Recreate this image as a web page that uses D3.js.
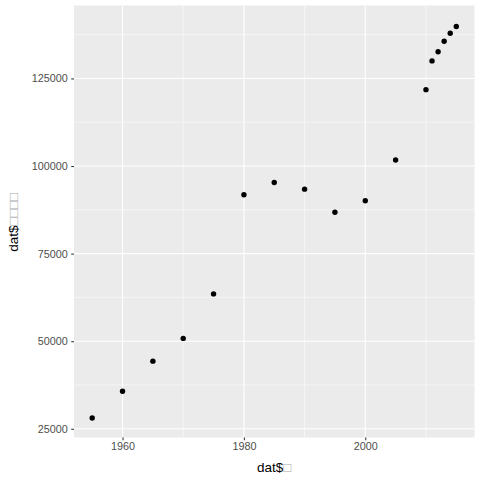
<!DOCTYPE html>
<html><head><meta charset="utf-8">
<script src="https://cdn.jsdelivr.net/npm/d3@7"></script>
<style>body{margin:0;background:#fff}svg{display:block}</style>
</head><body>
<script>
const years = [1955,1960,1965,1970,1975,1980,1985,1990,1995,2000,2005,2010,2011,2012,2013,2014,2015];
const values = [28100,35700,44300,50800,63500,91800,95300,93400,86800,90100,101700,121800,130000,132600,135600,137900,139800];
const xTicks = [1960,1980,2000];
const yTicks = [25000,50000,75000,100000,125000];
const xMinor = [1970,1990,2010];
const yMinor = [37500,62500,87500,112500,137500];
const xTitlePrefix = "dat$", xTitleRest = "\u25A1";
const yTitlePrefix = "dat$", yTitleRest = "\u25A1\u25A1\u25A1\u25A1";

const W=480,H=480;
const L=74, R=474.5, T=7, B=437.5;
const font="'Liberation Sans', Arial, Helvetica, sans-serif";
const svg=d3.select("body").append("svg").attr("width",W).attr("height",H);
svg.append("rect").attr("width",W).attr("height",H).attr("fill","#fff");

function expand(ext){const d=(ext[1]-ext[0])*0.05;return [ext[0]-d,ext[1]+d];}
const x=d3.scaleLinear().domain(expand(d3.extent(years))).range([L,R]);
const y=d3.scaleLinear().domain(expand(d3.extent(values))).range([B,T]);

svg.append("rect").attr("x",L).attr("y",5.5).attr("width",R-L).attr("height",B-5.5).attr("fill","#EBEBEB");
const g=svg.append("g");
g.selectAll(".xm").data(xMinor).join("line").attr("x1",d=>x(d)).attr("x2",d=>x(d)).attr("y1",5.5).attr("y2",B).attr("stroke","#fff").attr("stroke-width",0.53);
g.selectAll(".ym").data(yMinor).join("line").attr("y1",d=>y(d)).attr("y2",d=>y(d)).attr("x1",L).attr("x2",R).attr("stroke","#fff").attr("stroke-width",0.53);
g.selectAll(".xM").data(xTicks).join("line").attr("x1",d=>x(d)).attr("x2",d=>x(d)).attr("y1",5.5).attr("y2",B).attr("stroke","#fff").attr("stroke-width",1.07);
g.selectAll(".yM").data(yTicks).join("line").attr("y1",d=>y(d)).attr("y2",d=>y(d)).attr("x1",L).attr("x2",R).attr("stroke","#fff").attr("stroke-width",1.07);

const xAxis=d3.axisBottom(x).tickValues(xTicks).tickSize(2.75).tickPadding(2.5).tickFormat(d3.format("d"));
const yAxis=d3.axisLeft(y).tickValues(yTicks).tickSize(2.75).tickPadding(3.5).tickFormat(d3.format("d"));
const xa=svg.append("g").attr("transform",`translate(0,${B})`).call(xAxis);
const ya=svg.append("g").attr("transform",`translate(${L},0)`).call(yAxis);
[xa,ya].forEach(a=>{
  a.select(".domain").remove();
  a.selectAll(".tick line").attr("stroke","#333333").attr("stroke-width",1.07);
  a.selectAll(".tick text").attr("fill","#4D4D4D").attr("font-family",font).attr("font-size","10.8px");
});

svg.append("g").selectAll("circle").data(years).join("circle")
  .attr("cx",(d)=>x(d)).attr("cy",(d,i)=>y(values[i])).attr("r",2.7).attr("fill","#000");

const xt=svg.append("text").attr("x",(L+R)/2).attr("y",472).attr("text-anchor","middle")
  .attr("font-family",font).attr("font-size","13.5px").attr("fill","#000");
xt.append("tspan").text(xTitlePrefix);
xt.append("tspan").attr("fill","#aaa").text(xTitleRest);
const yt=svg.append("text").attr("transform",`translate(18,${(T+B)/2}) rotate(-90)`).attr("text-anchor","middle")
  .attr("font-family",font).attr("font-size","13.5px").attr("fill","#000");
yt.append("tspan").text(yTitlePrefix);
yt.append("tspan").attr("fill","#aaa").text(yTitleRest);
</script>
</body></html>
